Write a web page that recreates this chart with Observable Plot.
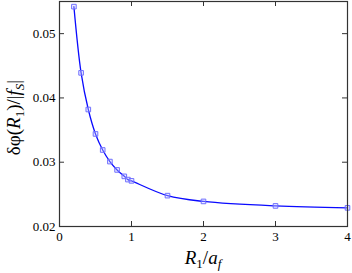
<!DOCTYPE html>
<html>
<head>
<meta charset="utf-8">
<script src="https://cdn.jsdelivr.net/npm/d3@7"></script>
<script src="https://cdn.jsdelivr.net/npm/@observablehq/plot@0.6"></script>
<style>
  body { margin: 0; background: #fff; }
  svg, svg text { font-family: 'Liberation Serif', 'Times New Roman', Times, 'DejaVu Serif', serif !important; }
</style>
</head>
<body>
<div id="chart"></div>
<script>
const r1 = [0.2, 0.3, 0.4, 0.5, 0.6, 0.7, 0.8, 0.9, 0.95, 1.0, 1.5, 2.0, 3.0, 4.0];
const dphi = [0.0542, 0.0439, 0.0382, 0.0344, 0.0319, 0.0301, 0.0288, 0.0278, 0.0273, 0.0271, 0.0248, 0.0239, 0.0232, 0.0229];
const xTicks = [0, 1, 2, 3, 4];
const yTicks = [0.02, 0.03, 0.04, 0.05];

const data = r1.map((x, i) => ({x, y: dphi[i]}));

const W = 352, H = 273;
const mL = 59, mR = 5, mT = 1, mB = 47;
const innerW = W - mL - mR, innerH = H - mT - mB;
const tick = 5;
const serif = "'Liberation Serif', 'Times New Roman', Times, 'DejaVu Serif', serif";

const plot = Plot.plot({
  width: W, height: H,
  marginLeft: mL, marginRight: mR, marginTop: mT, marginBottom: mB,
  style: {fontFamily: serif, fontSize: "13px", background: "#fff"},
  x: {domain: [0, 4]},
  y: {domain: [0.02, 0.055]},
  marks: [
    Plot.axisX(xTicks, {tickSize: 0, tickPadding: 5, label: null, fontSize: 13, tickFormat: d => String(d), fill: "#000"}),
    Plot.axisY(yTicks, {tickSize: 0, tickPadding: 4, label: null, fontSize: 13, tickFormat: d => d.toFixed(2), fill: "#000"}),
    Plot.tickX(xTicks, {x: d => d, insetTop: innerH - tick, stroke: "#333"}),
    Plot.tickX(xTicks, {x: d => d, insetBottom: innerH - tick, stroke: "#333"}),
    Plot.tickY(yTicks, {y: d => d, insetRight: innerW - tick, stroke: "#333"}),
    Plot.tickY(yTicks, {y: d => d, insetLeft: innerW - tick, stroke: "#333"}),
    Plot.line(data, {x: "x", y: "y", curve: "catmull-rom", stroke: "#0a0aff", strokeWidth: 1.3}),
    Plot.dot(data, {x: "x", y: "y", symbol: "square", r: 2.6, stroke: "#7070ff", strokeWidth: 1, fill: "#d0d0ff", fillOpacity: 0.35}),
    Plot.frame({stroke: "#333", strokeWidth: 1.2})
  ]
});

const svg = d3.select(plot);
// y-axis label: δφ(R1)/|fS|
const yl = svg.append("text")
  .attr("transform", `translate(20, ${mT + innerH / 2 + 4}) rotate(-90)`)
  .attr("text-anchor", "middle")
  .attr("font-family", serif)
  .attr("font-size", 19)
  .attr("fill", "#000");
yl.append("tspan").text("δφ(");
yl.append("tspan").attr("font-style", "italic").text("R");
yl.append("tspan").attr("font-size", 13).attr("dy", 4).text("1");
yl.append("tspan").attr("dy", -4).text(")/|");
yl.append("tspan").attr("font-style", "italic").text("f");
yl.append("tspan").attr("font-size", 13).attr("font-style", "italic").attr("dy", 4).text("S");
yl.append("tspan").attr("dy", -4).text("|");

// x-axis label: R1/af
const xl = svg.append("text")
  .attr("x", mL + innerW / 2)
  .attr("y", 264)
  .attr("text-anchor", "middle")
  .attr("font-family", serif)
  .attr("font-size", 19)
  .attr("fill", "#000");
xl.append("tspan").attr("font-style", "italic").text("R");
xl.append("tspan").attr("font-size", 13).attr("dy", 4).text("1");
xl.append("tspan").attr("dy", -4).text("/");
xl.append("tspan").attr("font-style", "italic").text("a");
xl.append("tspan").attr("font-size", 13).attr("font-style", "italic").attr("dy", 4).text("f");

document.getElementById("chart").appendChild(plot);
</script>
</body>
</html>
